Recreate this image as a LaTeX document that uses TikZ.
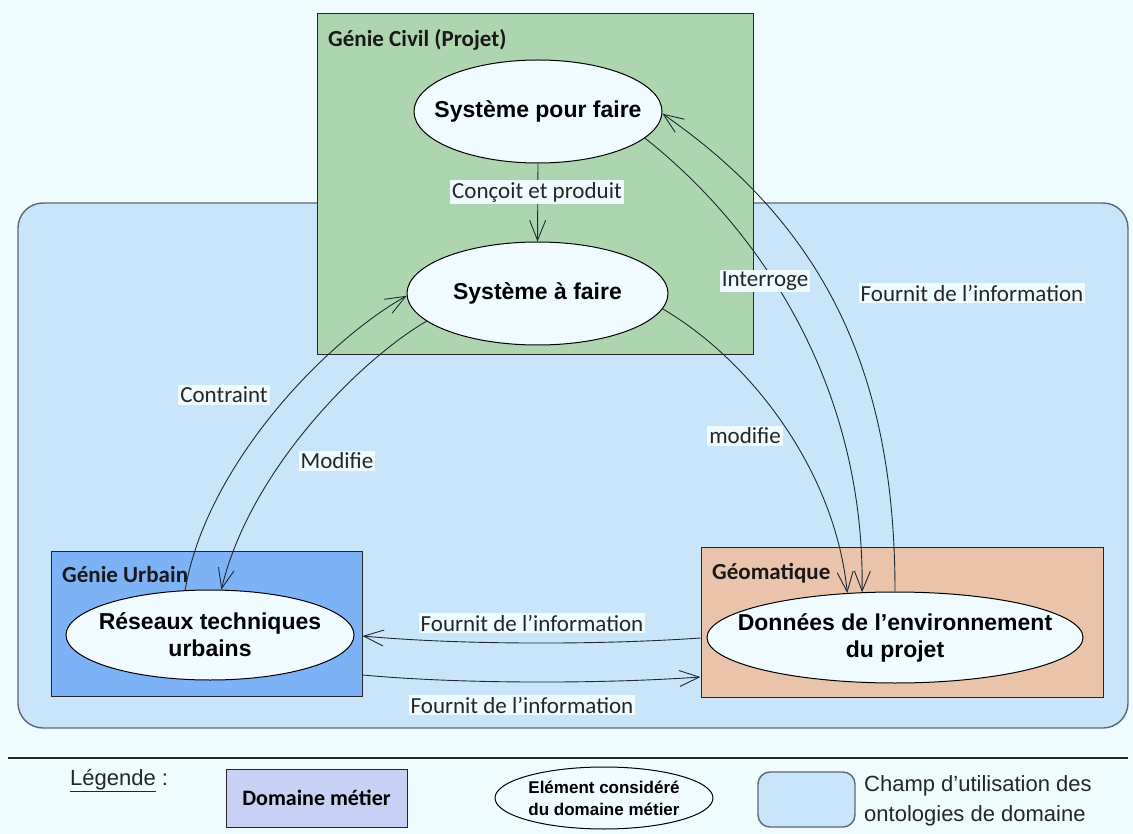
\documentclass[tikz,border=0pt]{standalone}
\usepackage{fontspec}
\setmainfont{Liberation Sans}
\newfontfamily\calib{Carlito}
\usetikzlibrary{shapes.geometric,arrows.meta,calc}
\definecolor{pagebg}{HTML}{EEFCFE}
\definecolor{zonebg}{HTML}{C9E5FA}
\definecolor{zoneline}{HTML}{5C6878}
\definecolor{civil}{HTML}{ADD6AF}
\definecolor{urbain}{HTML}{7DB2F6}
\definecolor{geom}{HTML}{E9C4AA}
\definecolor{ellfill}{HTML}{EFFBFF}
\definecolor{legbox}{HTML}{C6D1F3}
\definecolor{link}{HTML}{1F2A33}
\definecolor{lblbg}{HTML}{EEFBFF}
\begin{document}
\begin{tikzpicture}[x=1pt,y=-1pt,
  box/.style={draw=black!85, line width=1pt, inner sep=0pt},
  elem/.style={ellipse, draw=black, line width=1pt, fill=ellfill, inner sep=0pt},
  etext/.style={inner sep=0pt, align=center, font=\bfseries\fontsize{23}{27}\selectfont},
  title/.style={anchor=base west, inner sep=0pt, text=black!90, font=\calib\bfseries\fontsize{23}{27}\selectfont},
  conn/.style={draw=link, line width=0.9pt, -{Straight Barb[length=20pt,width=16pt,line width=0.9pt]}},
  lbl/.style={fill=lblbg, inner xsep=2pt, inner ysep=2pt, text=black!85,
    font=\calib\fontsize{23}{27}\selectfont}]
\fill[pagebg] (0,0) rectangle (1133,834);
\useasboundingbox (0,0) rectangle (1133,834);

% zone of ontology use
\node[draw=zoneline, line width=1.4pt, fill=zonebg, rounded corners=25pt,
  minimum width=1110pt, minimum height=525pt, inner sep=0pt] (zone) at (573,465.5) {};

% domain boxes
\node[box, fill=civil, minimum width=436pt, minimum height=341pt] (gc) at (535,184.5) {};
\node[box, fill=urbain, minimum width=311pt, minimum height=145pt] (gu) at (206.5,623.5) {};
\node[box, fill=geom, minimum width=402pt, minimum height=150pt] (geo) at (902,622) {};

\node[title] (tgc) at (328,47) {Génie Civil (Projet)};
\node[title] (tgu) at (62,582) {Génie Urbain};
\node[title] (tgeo) at (712,579) {Géomatique};

% elements
\node[elem, minimum width=248pt, minimum height=103pt] (spf) at (538,111.5) {};
\node[etext] (spft) at (spf.center) {Système pour faire};
\node[elem, minimum width=261pt, minimum height=103pt] (saf) at (537.5,293.5) {};
\node[etext] (saft) at (saf.center) {Système à faire};
\node[elem, minimum width=288pt, minimum height=90pt] (rtu) at (210,635) {};
\node[etext] (rtut) at (rtu.center) {Réseaux techniques\\urbains};
\node[elem, minimum width=376pt, minimum height=91pt] (dep) at (895,637.5) {};
\node[etext] (dept) at (dep.center) {Données de l’environnement\\du projet};

% connectors
\draw[conn] (spf.south) -- (saf.north);
\draw[conn] (rtu.119) .. controls (205,470) and (320,345) .. (saf.181);
\draw[conn] (saf.-166.5) .. controls (360,360) and (250,470) .. (rtu.76);
\draw[conn] (saf.-7.4) .. controls (750,360) and (835,470) .. (dep.137.5);
\draw[conn] (spf.-14) .. controls (755,225) and (865,380) .. (dep.126);
\draw[conn] (dep.90) .. controls (895,380) and (830,230) .. (spf.-1);
\draw[conn] ([yshift=-16pt]geo.west) .. controls (600,645) and (460,645) .. ([yshift=-12.5pt]gu.east);
\draw[conn] ([yshift=-51.5pt]gu.east) .. controls (460,684) and (600,684) .. ([yshift=-55pt]geo.west);

% connector labels
\node[lbl] (l1) at (537,192) {Conçoit et produit};
\node[lbl] (l2) at (224,395) {Contraint};
\node[lbl] (l3) at (337,461) {Modifie};
\node[lbl] (l4) at (745,436) {modifie};
\node[lbl] (l5) at (765,281) {Interroge};
\node[lbl] (l6) at (972,293) {Fournit de l’information};
\node[lbl] (l7) at (532,623) {Fournit de l’information};
\node[lbl] (l8) at (522,705) {Fournit de l’information};

% legend
\draw[black!85, line width=1.4pt] (8,758) -- (1128,758);
\node[anchor=base west, inner sep=0pt, font=\fontsize{22}{24}\selectfont, text=black!85] (leg) at (70,785) {\underline{Légende} :};
\node[draw=black!85, line width=1pt, fill=legbox, minimum width=181pt, minimum height=58pt,
  inner sep=0pt, font=\calib\bfseries\fontsize{22}{26}\selectfont] (lgd) at (316.5,798) {Domaine métier};
\node[ellipse, draw=black, line width=1pt, fill=ellfill, minimum width=218pt, minimum height=62pt,
  inner sep=0pt] (lge) at (604,798) {};
\node[inner sep=0pt, align=center, font=\bfseries\fontsize{17}{22}\selectfont] (lget) at (lge.center) {Elément considéré\\du domaine métier};
\node[draw=zoneline, line width=1.4pt, fill=zonebg, rounded corners=12pt, minimum width=97pt,
  minimum height=55pt, inner sep=0pt] (lgz) at (806.5,799.5) {};
\node[anchor=west, align=left, inner sep=0pt, font=\fontsize{22}{30}\selectfont, text=black!85] (lgzt) at (864,801) {Champ d’utilisation des\\ontologies de domaine};
\end{tikzpicture}
\end{document}
